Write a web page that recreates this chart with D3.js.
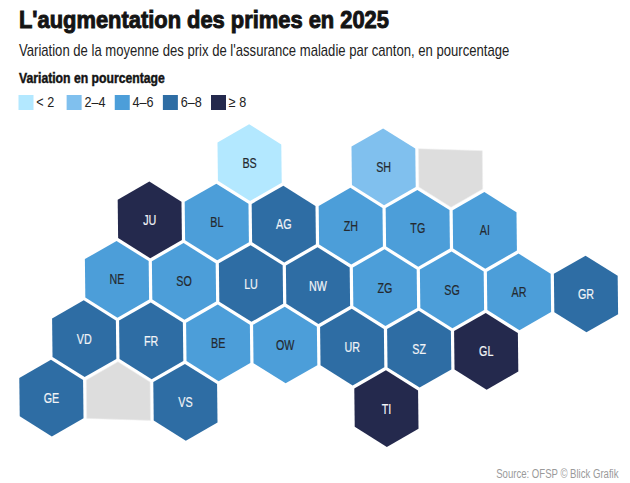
<!DOCTYPE html>
<html><head><meta charset="utf-8">
<script src="https://cdn.jsdelivr.net/npm/d3@7"></script>
<style>html,body{margin:0;padding:0;background:#fff}svg{display:block}text{font-family:"Liberation Sans",Arial,sans-serif}</style>
</head><body><svg id="c" width="630" height="483"></svg>
<script>
const cantons=["BS","SH","JU","BL","AG","ZH","TG","AI","NE","SO","LU","NW","ZG","SG","AR","GR","VD","FR","BE","OW","UR","SZ","GL","GE","VS","TI"];
const cols=[0,2,-1,0,1,2,3,4,-1,0,1,2,3,4,5,6,-1,0,1,2,3,4,5,-1,1,4];
const rows=[0,0,1,1,1,1,1,1,2,2,2,2,2,2,2,2,3,3,3,3,3,3,3,4,4,4];
const bins=[0,1,4,2,3,2,2,2,2,2,3,3,2,2,2,3,3,3,2,2,3,3,4,3,3,4];
const binLabels=["< 2","2–4","4–6","6–8","≥ 8"];
const binColors=["#b3e8ff","#80c0ee","#4c9ed9","#2e6da4","#24294d"];
const blankCols=[3,0];
const blankRows=[0,4];
const blankDropped=[0,3];
const title="L'augmentation des primes en 2025";
const subtitle="Variation de la moyenne des prix de l'assurance maladie par canton, en pourcentage";
const legendTitle="Variation en pourcentage";
const source="Source: OFSP © Blick Grafik";

const svg=d3.select("#c");
const colX=d3.scaleLinear().domain([0,1]).range([249.6,316.6]);
const rowX=d3.scaleLinear().domain([0,1]).range([0,-32.8]);
const colY=d3.scaleLinear().domain([0,1]).range([162.6,164.7]);
const rowY=d3.scaleLinear().domain([0,1]).range([0,59.4]);
const cx=(q,r)=>colX(q)+rowX(r), cy=(q,r)=>colY(q)+rowY(r);
// hexagon corners follow from the lattice steps
const ax=colX(1)-colX(0), ay=colY(1)-colY(0), bx=rowX(1), by=rowY(1), k=0.952/3;
const sx=ax+bx, sy=ay+by;
const verts=[[-(sx+bx),-(sy+by)],[ax-bx,ay-by],[ax+sx,ay+sy],[sx+bx,sy+by],[bx-ax,by-ay],[-ax-sx,-ay-sy]].map(d=>[d[0]*k,d[1]*k]);
const line=d3.line().curve(d3.curveLinearClosed);
const hex=(q,r,drop)=>line(verts.filter((_,i)=>i!==drop).map(v=>[cx(q,r)+v[0],cy(q,r)+v[1]]));
const place=(x,y,f)=>`translate(${x},${y}) scale(${f},1)`;

svg.selectAll("path.blank").data(blankCols).join("path").attr("class","blank")
 .attr("d",(d,i)=>hex(d,blankRows[i],blankDropped[i])).attr("fill","#dddddd").attr("stroke","#eeeeee").attr("stroke-width",0.6);
svg.selectAll("path.hex").data(cantons).join("path").attr("class","hex")
 .attr("d",(d,i)=>hex(cols[i],rows[i],-1)).attr("fill",(d,i)=>binColors[bins[i]]);
svg.selectAll("text.lab").data(cantons).join("text").attr("class","lab")
 .attr("transform",(d,i)=>place(cx(cols[i],rows[i]),cy(cols[i],rows[i])+5,0.74))
 .attr("text-anchor","middle").attr("font-size",14.5)
 .attr("fill",(d,i)=>bins[i]>=3?"#f2f4f7":"#24292f").attr("stroke",(d,i)=>bins[i]>=3?"#f2f4f7":"#24292f").attr("stroke-width",0.2).text(d=>d);

svg.append("text").attr("transform",place(19,27.8,0.886)).attr("font-size",24.7).attr("font-weight",700).attr("fill","#141414").attr("stroke","#141414").attr("stroke-width",1).text(title);
svg.append("text").attr("transform",place(19,56,0.818)).attr("font-size",16).attr("fill","#222").text(subtitle);
svg.append("text").attr("transform",place(19,82.7,0.872)).attr("font-size",14).attr("font-weight",700).attr("fill","#141414").attr("stroke","#141414").attr("stroke-width",0.45).text(legendTitle);
const legX=d3.scalePoint().domain(binLabels).range([18.5,211]);
const leg=svg.selectAll("g.leg").data(binLabels).join("g").attr("class","leg").attr("transform",d=>`translate(${legX(d)},95)`);
leg.append("rect").attr("width",15).attr("height",15).attr("fill",(d,i)=>binColors[i]);
leg.append("text").attr("transform",place(17.8,12,0.87)).attr("font-size",14.5).attr("fill","#222").text(d=>d);
svg.append("text").attr("transform",place(618.5,477.7,0.71)).attr("text-anchor","end").attr("font-size",13.5).attr("fill","#9a9a9a").text(source);
</script></body></html>
